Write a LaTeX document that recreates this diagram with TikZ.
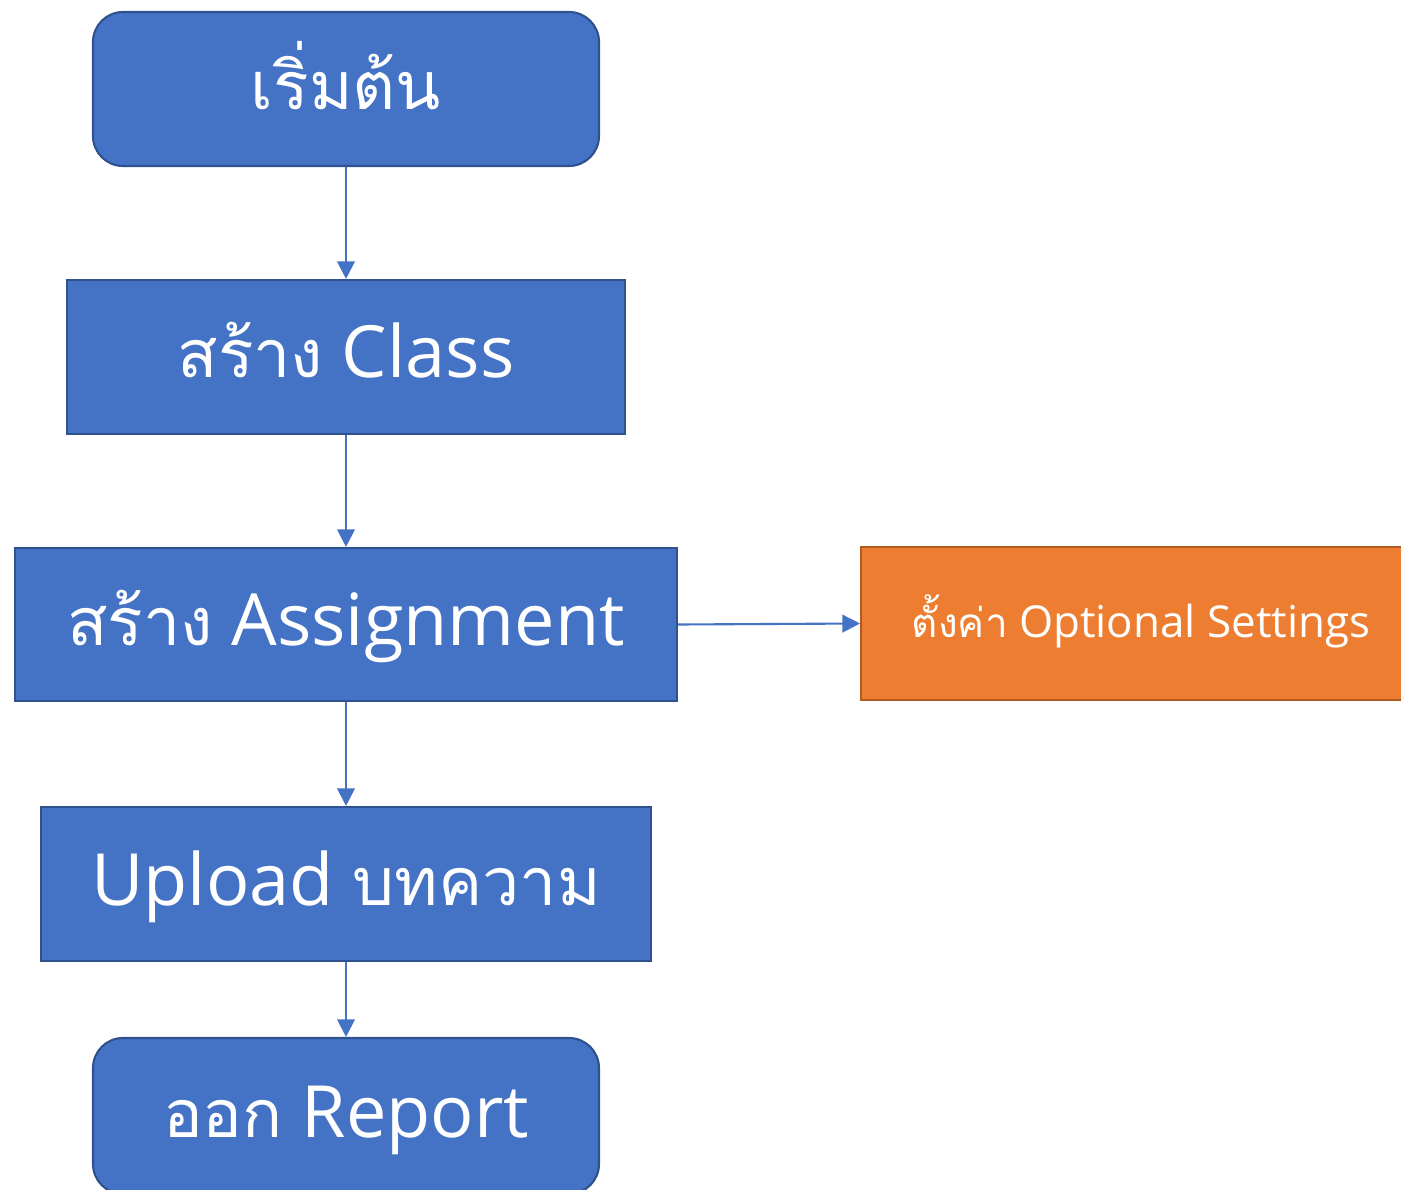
\documentclass[tikz,border=0pt]{standalone}
\usepackage{fontspec}
\setmainfont{Open Sans}
\newfontfamily\thaifont[Script=Thai,Scale=0.92]{Loma}
\usetikzlibrary{arrows.meta}
\definecolor{boxblue}{HTML}{4472C4}
\definecolor{boxblueline}{HTML}{2F528F}
\definecolor{boxorange}{HTML}{ED7D31}
\definecolor{boxorangeline}{HTML}{AE5A21}
\tikzset{
  px/.style={x=0.02cm,y=-0.02cm},
  bluebox/.style={draw=boxblueline,fill=boxblue,line width=1.2pt,text=white,inner sep=0pt,align=center,
    text height=0.84cm,text depth=0cm,font=\fontsize{41}{48}\selectfont},
  startbox/.style={bluebox,rounded corners=0.6cm},
  orangebox/.style={draw=boxorangeline,fill=boxorange,line width=1.2pt,text=white,inner sep=0pt,align=center,
    text height=0.54cm,text depth=0cm,font=\fontsize{25}{30}\selectfont},
  flow/.style={draw=boxblue,line width=1.2pt,-{Triangle[length=10pt,width=10pt]}}
}
\begin{document}
\begin{tikzpicture}[px]
\useasboundingbox (0,0) rectangle (1401,1190);
\clip (0,0) rectangle (1401,1190);
\node[startbox,minimum width=506*0.02cm,minimum height=154*0.02cm] (start) at (346,89) {{\thaifont เริ่มต้น}};
\node[bluebox,minimum width=558*0.02cm,minimum height=154*0.02cm] (class) at (346,357) {{\thaifont สร้าง} Class};
\node[bluebox,minimum width=662*0.02cm,minimum height=153*0.02cm] (assign) at (346,624.5) {{\thaifont สร้าง} Assignment};
\node[bluebox,minimum width=610*0.02cm,minimum height=154*0.02cm] (upload) at (346,884) {Upload {\thaifont บทความ}};
\node[startbox,minimum width=506*0.02cm,minimum height=156*0.02cm] (report) at (346,1116) {{\thaifont ออก} Report};
\node[orangebox,minimum width=560*0.02cm,minimum height=153*0.02cm,anchor=west] (opt) at (860,623.5) {{\thaifont ตั้งค่า} Optional Settings};
\draw[flow] (start.south) -- (class.north);
\draw[flow] (class.south) -- (assign.north);
\draw[flow] (assign.south) -- (upload.north);
\draw[flow] (upload.south) -- (report.north);
\draw[flow] (assign.east) -- (opt.west);
\end{tikzpicture}
\end{document}
